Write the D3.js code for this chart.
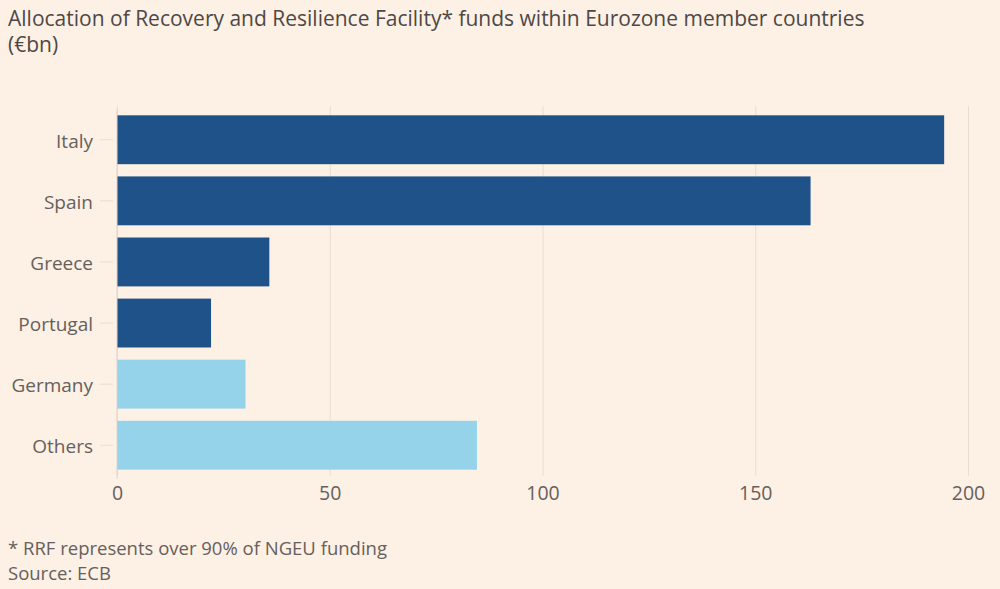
<!DOCTYPE html>
<html>
<head>
<meta charset="utf-8">
<script src="https://cdn.jsdelivr.net/npm/d3@7"></script>
<style>
  html, body { margin: 0; padding: 0; background: #fdf0e5; }
  svg { display: block; font-family: "Open Sans", sans-serif; }
</style>
</head>
<body>
<svg id="chart" width="1000" height="589"></svg>
<script>
const categories = ["Italy", "Spain", "Greece", "Portugal", "Germany", "Others"];
const values = [194.4, 163.0, 35.8, 22.1, 30.2, 84.6];
const groups = ["highlight", "highlight", "highlight", "highlight", "other", "other"];
const tickValues = [0, 50, 100, 150, 200];
const titleLines = ["Allocation of Recovery and Resilience Facility* funds within Eurozone member countries", "(€bn)"];
const footLines = ["* RRF represents over 90% of NGEU funding", "Source: ECB"];

const colorMap = { highlight: "#1f5289", other: "#95d3ea" };
const textColor = "#66605c";

const svg = d3.select("#chart");
svg.append("rect").attr("width", 1000).attr("height", 589).attr("fill", "#fdf0e5");

const x = d3.scaleLinear().domain([0, 200]).range([117, 968]);
const y = d3.scaleBand().domain(categories).range([109.2, 475.8]).paddingInner(0.2).paddingOuter(0.1);

// gridlines
const grid = svg.append("g").attr("transform", `translate(0,${y.range()[1]})`)
  .call(d3.axisBottom(x).tickValues(tickValues).tickSize(-(y.range()[1] - y.range()[0] + 3)).tickFormat(""));
grid.select(".domain").remove();
grid.selectAll("line").attr("stroke", "#e9ddd2").attr("stroke-width", 1);

// tick labels x
const xa = svg.append("g").attr("transform", `translate(0,${y.range()[1]})`)
  .call(d3.axisBottom(x).tickValues(tickValues).tickSize(0).tickPadding(10));
xa.select(".domain").remove();
xa.selectAll("text").attr("fill", textColor).style("font-size", "19.5px").style("font-family", "'Open Sans', sans-serif");

// y axis
const ya = svg.append("g").attr("transform", `translate(113,0)`)
  .call(d3.axisLeft(y).tickSize(13).tickPadding(7));
ya.select(".domain").remove();
ya.selectAll("line").attr("stroke", "#e9ddd2");
ya.selectAll("text").attr("fill", textColor).attr("dy", "0.42em").style("font-size", "19px").style("font-family", "'Open Sans', sans-serif");

// bars
svg.append("g").selectAll("rect").data(categories).join("rect")
  .attr("x", x(0))
  .attr("y", d => y(d))
  .attr("height", y.bandwidth())
  .attr("width", (d, i) => x(values[i]) - x(0))
  .attr("fill", (d, i) => colorMap[groups[i]]);

// zero line
svg.append("line").attr("x1", x(0)).attr("x2", x(0)).attr("y1", y.range()[0]).attr("y2", y.range()[1] + 3)
  .attr("stroke", "#e0d4c9");

// title
svg.append("g").selectAll("text").data(titleLines).join("text")
  .attr("x", 8).attr("y", (d, i) => 26 + i * 26)
  .attr("fill", "#4d4845").style("font-size", "21px")
  .text(d => d);

// footnote
svg.append("g").selectAll("text").data(footLines).join("text")
  .attr("x", 8).attr("y", (d, i) => 555 + i * 25)
  .attr("fill", textColor).style("font-size", "18.5px")
  .text(d => d);
</script>
</body>
</html>
